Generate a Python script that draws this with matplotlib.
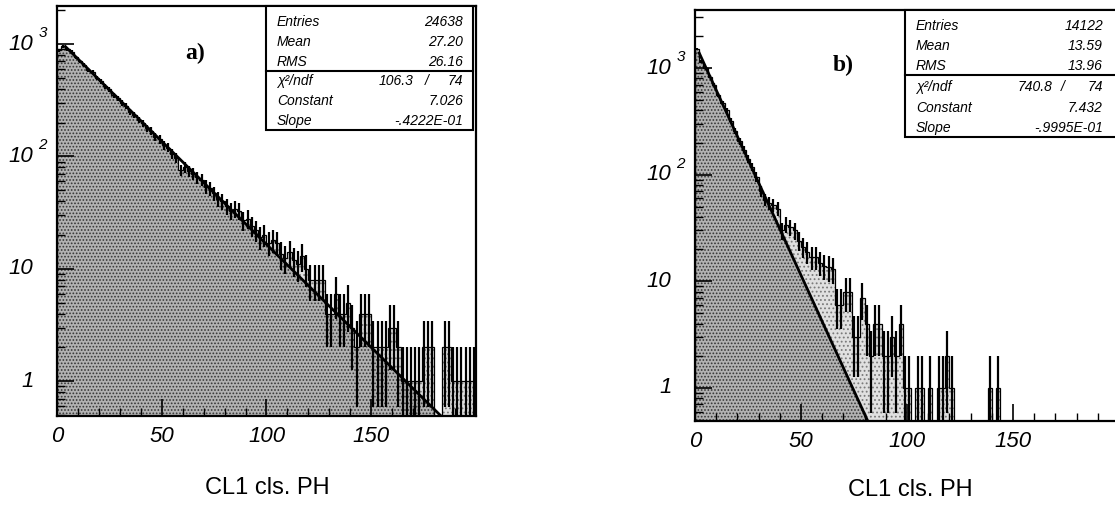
import numpy as np
import matplotlib
matplotlib.use('Agg')
import matplotlib.pyplot as plt
import matplotlib.transforms as mtransforms
from matplotlib.patches import Rectangle
from matplotlib.ticker import LogLocator, MultipleLocator, NullFormatter

plt.rcParams['font.family'] = ['Liberation Sans', 'DejaVu Sans']
plt.rcParams['hatch.linewidth'] = 0.8

# histogram binning (2 units per bin, 0..200)
bin_edges = np.arange(0, 202, 2)

# panel a) counts per bin
counts_a = [880, 960, 900, 850, 760, 700, 650, 590, 560, 500,
            465, 420, 395, 350, 330, 300, 280, 250, 235, 212,
            198, 178, 168, 150, 142, 126, 120, 106, 97, 75,
            80, 74, 70, 65, 62, 54, 52, 47, 42, 40,
            36, 33, 34, 33, 27, 28, 24, 22, 19, 20,
            17, 18, 17, 13.5, 12.5, 14, 12, 11, 13, 10,
            8, 8, 8, 8, 4, 4, 6, 4, 4, 5,
            3, 2, 4, 4, 4, 2, 2, 2, 2, 3,
            3, 2, 1, 1, 1, 1, 1, 2, 2, 2,
            0, 0, 2, 2, 1, 1, 1, 1, 1, 1]

# panel b) counts per bin
counts_b = [1500, 1150, 1000, 830, 700, 560, 470, 400, 320, 255,
            205, 172, 140, 118, 96, 70, 58, 54, 52, 48,
            30, 34, 32, 30, 24, 21, 19, 17, 17, 15,
            14, 13.5, 13, 6, 6, 8, 8, 3, 3, 7,
            4, 2, 4, 4, 2, 2, 3, 2, 4, 1,
            1, 0, 1, 1, 0, 1, 0, 1, 1, 2,
            1, 0, 0, 0, 0, 0, 0, 0, 0, 1,
            0, 1, 0, 0, 0, 0, 0, 0, 0, 0,
            0, 0, 0, 0, 0, 0, 0, 0, 0, 0,
            0, 0, 0, 0, 0, 0, 0, 0, 0, 0]

# fit results (exponential: exp(constant + slope*x))
fit_const_a, fit_slope_a = 7.026, -0.04222
fit_const_b, fit_slope_b = 7.432, -0.09995

stats_a = [('Entries', '24638'), ('Mean', '27.20'), ('RMS', '26.16')]
stats_b = [('Entries', '14122'), ('Mean', '13.59'), ('RMS', '13.96')]
fitbox_a = ['106.3', '74', '7.026', '-.4222E-01']
fitbox_b = ['740.8', '74', '7.432', '-.9995E-01']

x_ticks = [0, 50, 100, 150, 200]
x_ticklabels = ['0', '50', '100', '150', '']
y_ticks = [1, 10, 100, 1000]
y_base = ['1', '10', '10', '10']
y_sup = ['', '', '2', '3']

YMIN = 0.49
TINY = 1e-3


def draw_panel(ax, counts, const, slope, fit_start, ymax, tag, tag_xy, stats, fitbox, box):
    counts = np.asarray(counts, dtype=float)
    shown = np.where(counts > 0, counts, TINY)
    ax.set_yscale('log')
    ax.set_xlim(0, 200)
    ax.set_ylim(YMIN, ymax)

    # light dotted fill of the histogram
    fillp = ax.stairs(shown, bin_edges, baseline=TINY, fill=True, facecolor='#e0e0e0',
                      edgecolor='#7a7a7a', hatch='....', linewidth=0, zorder=0.5)
    # darker texture under the fitted exponential, kept inside the histogram
    xd = np.linspace(0, 200, 500)
    dark = ax.fill_between(xd, TINY, np.exp(const + slope * xd), facecolor='#b2b2b2',
                           edgecolor='#363636', hatch='.....', linewidth=0, zorder=0.7)
    dark.set_clip_path(fillp)
    ax.stairs(shown, bin_edges, baseline=TINY, color='black', linewidth=0.9, zorder=1)

    centers = 0.5 * (bin_edges[:-1] + bin_edges[1:])
    nz = counts > 0
    err = np.sqrt(counts[nz])
    lo = np.maximum(counts[nz] - err, TINY)
    ax.vlines(centers[nz], lo, counts[nz] + err, color='black', linewidth=1.6, zorder=1.2)
    xf = np.linspace(fit_start, 200, 500)
    ax.plot(xf, np.exp(const + slope * xf), color='black', linewidth=2.0, zorder=2)

    # ticks
    ax.set_xticks(x_ticks)
    ax.set_xticklabels(x_ticklabels, fontstyle='italic', fontsize=16)
    ax.xaxis.set_minor_locator(MultipleLocator(10))
    ax.tick_params(axis='x', which='major', direction='in', length=12, width=1.2,
                   pad=7, top=False)
    ax.tick_params(axis='x', which='minor', direction='in', length=6, width=1.0, top=False)
    ax.yaxis.set_major_locator(LogLocator(base=10, numticks=10))
    ax.yaxis.set_minor_locator(LogLocator(base=10, subs=np.arange(2, 10), numticks=20))
    ax.yaxis.set_major_formatter(NullFormatter())
    ax.yaxis.set_minor_formatter(NullFormatter())
    ax.tick_params(axis='y', which='major', direction='in', length=12, width=1.2, right=False)
    ax.tick_params(axis='y', which='minor', direction='in', length=6, width=1.0, right=False)
    for s in ax.spines.values():
        s.set_linewidth(1.6)

    trans = mtransforms.blended_transform_factory(ax.transAxes, ax.transData)
    for val, base, sup in zip(y_ticks, y_base, y_sup):
        ax.annotate(base, xy=(0, val), xycoords=trans, xytext=(-17, 0),
                    textcoords='offset points', ha='right', va='center',
                    fontsize=16, fontstyle='italic', annotation_clip=False)
        if sup:
            ax.annotate(sup, xy=(0, val), xycoords=trans, xytext=(-13.5, 8),
                        textcoords='offset points', ha='left', va='center',
                        fontsize=11, fontstyle='italic', annotation_clip=False)

    ax.text(tag_xy[0], tag_xy[1], tag, transform=ax.transAxes, ha='center', va='center',
            fontsize=17, fontweight='bold', family='Liberation Serif', zorder=6)

    # statistics box
    x0, x1, y0, y1, ydiv, rows, xl, xr, xchi, xslash = box
    ax.add_patch(Rectangle((x0, y0), x1 - x0, y1 - y0, transform=ax.transAxes,
                           facecolor='white', edgecolor='black', linewidth=1.5,
                           zorder=5, clip_on=False))
    ax.plot([x0, x1], [ydiv, ydiv], transform=ax.transAxes, color='black',
            linewidth=1.5, zorder=6, clip_on=False)
    names = [s[0] for s in stats] + ['χ²/ndf', 'Constant', 'Slope']
    for i, name in enumerate(names):
        ax.text(xl, rows[i], name, transform=ax.transAxes, ha='left', va='center',
                fontsize=10, fontstyle='italic', zorder=7)
    for i, s in enumerate(stats):
        ax.text(xr, rows[i], s[1], transform=ax.transAxes, ha='right', va='center',
                fontsize=10, fontstyle='italic', zorder=7)
    ax.text(xchi, rows[3], fitbox[0], transform=ax.transAxes, ha='right', va='center',
            fontsize=10, fontstyle='italic', zorder=7)
    ax.text(xslash, rows[3], '/', transform=ax.transAxes, ha='center', va='center',
            fontsize=10, fontstyle='italic', zorder=7)
    ax.text(xr, rows[3], fitbox[1], transform=ax.transAxes, ha='right', va='center',
            fontsize=10, fontstyle='italic', zorder=7)
    ax.text(xr, rows[4], fitbox[2], transform=ax.transAxes, ha='right', va='center',
            fontsize=10, fontstyle='italic', zorder=7)
    ax.text(xr, rows[5], fitbox[3], transform=ax.transAxes, ha='right', va='center',
            fontsize=10, fontstyle='italic', zorder=7)


fig = plt.figure(figsize=(11.15, 5.15), dpi=100)
ax_a = fig.add_axes([0.0511, 0.1922, 0.3758, 0.7961])
ax_b = fig.add_axes([0.6233, 0.1825, 0.3803, 0.7981])

box_a = (0.499, 0.993, 0.6976, 1.0, 0.841,
         [0.960, 0.912, 0.864, 0.817, 0.768, 0.7195], 0.525, 0.969, 0.85, 0.883)
box_b = (0.495, 1.0, 0.690, 1.0, 0.842,
         [0.962, 0.912, 0.863, 0.813, 0.762, 0.712], 0.521, 0.962, 0.842, 0.868)

draw_panel(ax_a, counts_a, fit_const_a, fit_slope_a, 4, 2180, 'a)', (0.329, 0.885),
           stats_a, fitbox_a, box_a)
draw_panel(ax_b, counts_b, fit_const_b, fit_slope_b, 2, 3500, 'b)', (0.349, 0.866),
           stats_b, fitbox_b, box_b)

fig.text(0.2395, 0.052, 'CL1 cls. PH', ha='center', va='center', fontsize=17)
fig.text(0.816, 0.048, 'CL1 cls. PH', ha='center', va='center', fontsize=17)

fig.savefig('out.png', dpi=100)
